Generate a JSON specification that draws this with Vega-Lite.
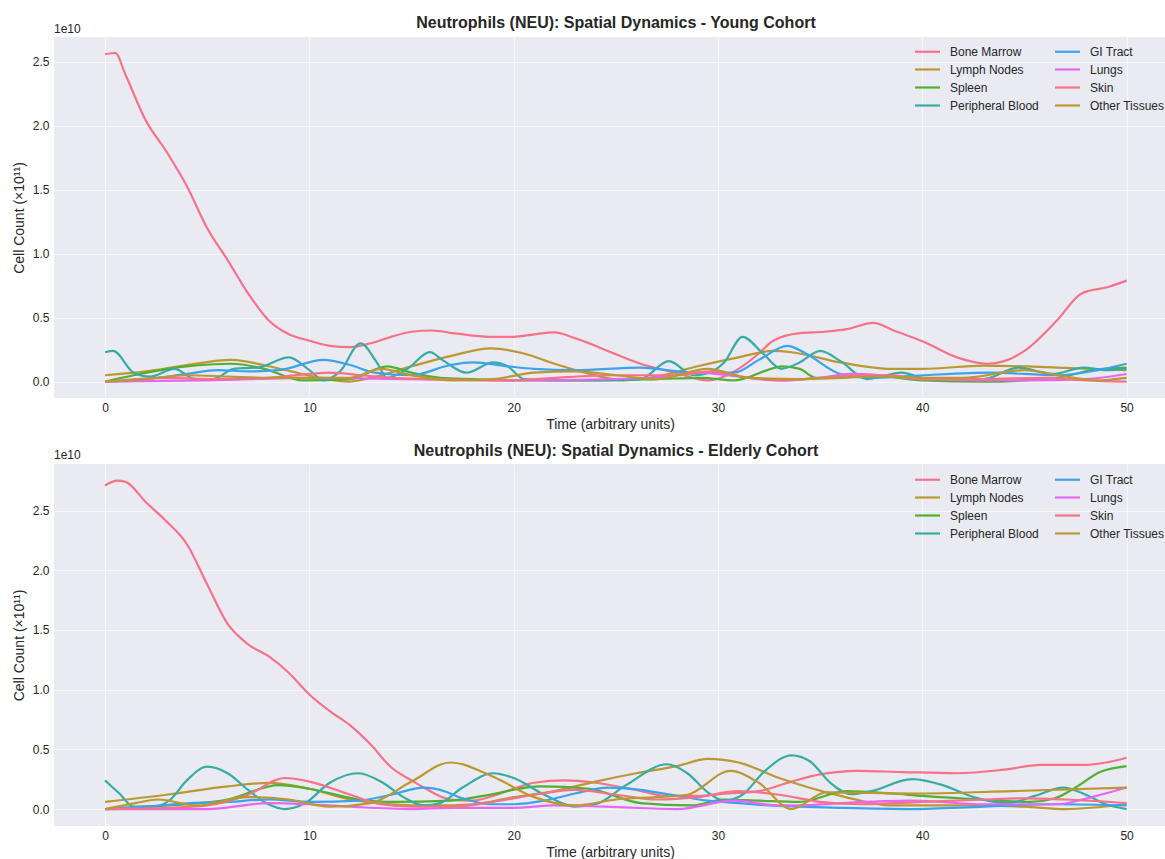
{
  "$schema": "https://vega.github.io/schema/vega-lite/v6.json",
  "padding": {"left": 12, "top": 15, "right": 0, "bottom": 0},
  "config": {
    "font": "Liberation Sans",
    "background": "white",
    "view": {"fill": "#eaeaf2", "stroke": null},
    "axis": {
      "domain": false, "ticks": false, "grid": true, "gridColor": "#ffffff", "gridWidth": 0.8, "gridOpacity": 0.8,
      "labelFontSize": 12, "labelColor": "#262626", "titleFontSize": 14,
      "titleFontWeight": "normal", "titleColor": "#262626"
    },
    "axisX": {"labelPadding": 4, "titlePadding": 4},
    "axisY": {"labelPadding": 5, "titlePadding": 6},
    "title": {"fontSize": 16, "fontWeight": "bold", "color": "#262626"},
    "legend": {
      "orient": "none", "columns": 2, "title": null, "symbolType": "M-2,0H2",
      "symbolSize": 156, "symbolStrokeWidth": 2.2, "labelFontSize": 12, "labelColor": "#262626",
      "labelOffset": 15, "columnPadding": 11, "rowPadding": 4, "padding": 0
    },
    "line": {"strokeWidth": 2.2, "interpolate": "monotone"}
  },
  "datasets": {
    "young": [
      {"t":0,"tissue":"Bone Marrow","n":2.56},{"t":0.5,"tissue":"Bone Marrow","n":2.57},{"t":1,"tissue":"Bone Marrow","n":2.40},{"t":2,"tissue":"Bone Marrow","n":2.04},{"t":3,"tissue":"Bone Marrow","n":1.80},{"t":4,"tissue":"Bone Marrow","n":1.53},{"t":5,"tissue":"Bone Marrow","n":1.20},{"t":6,"tissue":"Bone Marrow","n":0.95},{"t":7,"tissue":"Bone Marrow","n":0.69},{"t":8,"tissue":"Bone Marrow","n":0.48},{"t":9,"tissue":"Bone Marrow","n":0.37},{"t":10,"tissue":"Bone Marrow","n":0.32},{"t":11,"tissue":"Bone Marrow","n":0.28},{"t":12,"tissue":"Bone Marrow","n":0.27},{"t":13,"tissue":"Bone Marrow","n":0.30},{"t":14,"tissue":"Bone Marrow","n":0.35},{"t":15,"tissue":"Bone Marrow","n":0.39},{"t":16,"tissue":"Bone Marrow","n":0.40},{"t":17,"tissue":"Bone Marrow","n":0.38},{"t":18,"tissue":"Bone Marrow","n":0.36},{"t":19,"tissue":"Bone Marrow","n":0.35},{"t":20,"tissue":"Bone Marrow","n":0.35},{"t":21,"tissue":"Bone Marrow","n":0.37},{"t":22,"tissue":"Bone Marrow","n":0.385},{"t":23,"tissue":"Bone Marrow","n":0.34},{"t":24,"tissue":"Bone Marrow","n":0.28},{"t":24.6,"tissue":"Bone Marrow","n":0.24},{"t":26.2,"tissue":"Bone Marrow","n":0.14},{"t":27.9,"tissue":"Bone Marrow","n":0.07},{"t":29.5,"tissue":"Bone Marrow","n":0.01},{"t":30.3,"tissue":"Bone Marrow","n":0.04},{"t":31.1,"tissue":"Bone Marrow","n":0.11},{"t":32,"tissue":"Bone Marrow","n":0.22},{"t":32.7,"tissue":"Bone Marrow","n":0.32},{"t":34,"tissue":"Bone Marrow","n":0.38},{"t":35.2,"tissue":"Bone Marrow","n":0.39},{"t":36.3,"tissue":"Bone Marrow","n":0.41},{"t":37.6,"tissue":"Bone Marrow","n":0.46},{"t":38.6,"tissue":"Bone Marrow","n":0.40},{"t":40.1,"tissue":"Bone Marrow","n":0.31},{"t":41.7,"tissue":"Bone Marrow","n":0.19},{"t":43.2,"tissue":"Bone Marrow","n":0.14},{"t":44,"tissue":"Bone Marrow","n":0.16},{"t":45,"tissue":"Bone Marrow","n":0.24},{"t":46.6,"tissue":"Bone Marrow","n":0.48},{"t":47.8,"tissue":"Bone Marrow","n":0.69},{"t":49.1,"tissue":"Bone Marrow","n":0.74},{"t":50,"tissue":"Bone Marrow","n":0.79},

      {"t":0,"tissue":"Lymph Nodes","n":0.05},{"t":2,"tissue":"Lymph Nodes","n":0.08},{"t":4,"tissue":"Lymph Nodes","n":0.13},{"t":6.2,"tissue":"Lymph Nodes","n":0.17},{"t":8,"tissue":"Lymph Nodes","n":0.12},{"t":9.1,"tissue":"Lymph Nodes","n":0.08},{"t":10.5,"tissue":"Lymph Nodes","n":0.03},{"t":11.9,"tissue":"Lymph Nodes","n":0.0},{"t":13,"tissue":"Lymph Nodes","n":0.03},{"t":15,"tissue":"Lymph Nodes","n":0.12},{"t":16.9,"tissue":"Lymph Nodes","n":0.20},{"t":18.9,"tissue":"Lymph Nodes","n":0.26},{"t":20.5,"tissue":"Lymph Nodes","n":0.22},{"t":22,"tissue":"Lymph Nodes","n":0.14},{"t":23.5,"tissue":"Lymph Nodes","n":0.07},{"t":25.4,"tissue":"Lymph Nodes","n":0.01},{"t":27,"tissue":"Lymph Nodes","n":0.04},{"t":29,"tissue":"Lymph Nodes","n":0.12},{"t":31,"tissue":"Lymph Nodes","n":0.19},{"t":32.7,"tissue":"Lymph Nodes","n":0.24},{"t":33.6,"tissue":"Lymph Nodes","n":0.23},{"t":36,"tissue":"Lymph Nodes","n":0.15},{"t":38.5,"tissue":"Lymph Nodes","n":0.10},{"t":40,"tissue":"Lymph Nodes","n":0.10},{"t":43,"tissue":"Lymph Nodes","n":0.125},{"t":46.6,"tissue":"Lymph Nodes","n":0.11},{"t":50,"tissue":"Lymph Nodes","n":0.09},

      {"t":0,"tissue":"Spleen","n":0.0},{"t":1.4,"tissue":"Spleen","n":0.05},{"t":4,"tissue":"Spleen","n":0.12},{"t":6.2,"tissue":"Spleen","n":0.14},{"t":7.8,"tissue":"Spleen","n":0.10},{"t":9.7,"tissue":"Spleen","n":0.01},{"t":12,"tissue":"Spleen","n":0.02},{"t":13.8,"tissue":"Spleen","n":0.12},{"t":15,"tissue":"Spleen","n":0.07},{"t":16.4,"tissue":"Spleen","n":0.03},{"t":18,"tissue":"Spleen","n":0.02},{"t":20,"tissue":"Spleen","n":0.01},{"t":24,"tissue":"Spleen","n":0.01},{"t":27,"tissue":"Spleen","n":0.02},{"t":29.2,"tissue":"Spleen","n":0.03},{"t":30.8,"tissue":"Spleen","n":0.01},{"t":33.2,"tissue":"Spleen","n":0.12},{"t":34,"tissue":"Spleen","n":0.10},{"t":34.8,"tissue":"Spleen","n":0.03},{"t":36,"tissue":"Spleen","n":0.03},{"t":37.5,"tissue":"Spleen","n":0.05},{"t":40,"tissue":"Spleen","n":0.01},{"t":43,"tissue":"Spleen","n":0.0},{"t":46.6,"tissue":"Spleen","n":0.03},{"t":48.3,"tissue":"Spleen","n":0.09},{"t":50,"tissue":"Spleen","n":0.11},

      {"t":0,"tissue":"Peripheral Blood","n":0.23},{"t":0.4,"tissue":"Peripheral Blood","n":0.24},{"t":1.4,"tissue":"Peripheral Blood","n":0.07},{"t":2.2,"tissue":"Peripheral Blood","n":0.04},{"t":3.4,"tissue":"Peripheral Blood","n":0.10},{"t":4.4,"tissue":"Peripheral Blood","n":0.02},{"t":5.3,"tissue":"Peripheral Blood","n":0.02},{"t":6.3,"tissue":"Peripheral Blood","n":0.10},{"t":7.5,"tissue":"Peripheral Blood","n":0.11},{"t":9,"tissue":"Peripheral Blood","n":0.19},{"t":10,"tissue":"Peripheral Blood","n":0.09},{"t":10.7,"tissue":"Peripheral Blood","n":0.01},{"t":11.5,"tissue":"Peripheral Blood","n":0.08},{"t":12.5,"tissue":"Peripheral Blood","n":0.30},{"t":13.3,"tissue":"Peripheral Blood","n":0.15},{"t":13.8,"tissue":"Peripheral Blood","n":0.03},{"t":14.8,"tissue":"Peripheral Blood","n":0.10},{"t":15.9,"tissue":"Peripheral Blood","n":0.23},{"t":16.5,"tissue":"Peripheral Blood","n":0.17},{"t":17.7,"tissue":"Peripheral Blood","n":0.07},{"t":19,"tissue":"Peripheral Blood","n":0.15},{"t":19.7,"tissue":"Peripheral Blood","n":0.12},{"t":20.5,"tissue":"Peripheral Blood","n":0.02},{"t":22,"tissue":"Peripheral Blood","n":0.01},{"t":24,"tissue":"Peripheral Blood","n":0.01},{"t":26.2,"tissue":"Peripheral Blood","n":0.02},{"t":27.6,"tissue":"Peripheral Blood","n":0.16},{"t":28.8,"tissue":"Peripheral Blood","n":0.05},{"t":29.7,"tissue":"Peripheral Blood","n":0.08},{"t":30.3,"tissue":"Peripheral Blood","n":0.15},{"t":31.2,"tissue":"Peripheral Blood","n":0.35},{"t":32.2,"tissue":"Peripheral Blood","n":0.22},{"t":33.1,"tissue":"Peripheral Blood","n":0.10},{"t":34,"tissue":"Peripheral Blood","n":0.15},{"t":35,"tissue":"Peripheral Blood","n":0.24},{"t":36,"tissue":"Peripheral Blood","n":0.16},{"t":37.3,"tissue":"Peripheral Blood","n":0.02},{"t":38,"tissue":"Peripheral Blood","n":0.04},{"t":39,"tissue":"Peripheral Blood","n":0.07},{"t":40,"tissue":"Peripheral Blood","n":0.03},{"t":41,"tissue":"Peripheral Blood","n":0.02},{"t":43,"tissue":"Peripheral Blood","n":0.02},{"t":44.7,"tissue":"Peripheral Blood","n":0.11},{"t":46.4,"tissue":"Peripheral Blood","n":0.06},{"t":47.9,"tissue":"Peripheral Blood","n":0.11},{"t":49,"tissue":"Peripheral Blood","n":0.09},{"t":50,"tissue":"Peripheral Blood","n":0.10},

      {"t":0,"tissue":"GI Tract","n":0.0},{"t":2,"tissue":"GI Tract","n":0.02},{"t":4,"tissue":"GI Tract","n":0.06},{"t":5.5,"tissue":"GI Tract","n":0.09},{"t":7,"tissue":"GI Tract","n":0.08},{"t":8.5,"tissue":"GI Tract","n":0.09},{"t":10.7,"tissue":"GI Tract","n":0.17},{"t":12,"tissue":"GI Tract","n":0.13},{"t":13.2,"tissue":"GI Tract","n":0.07},{"t":15,"tissue":"GI Tract","n":0.05},{"t":16.9,"tissue":"GI Tract","n":0.13},{"t":18,"tissue":"GI Tract","n":0.15},{"t":19.7,"tissue":"GI Tract","n":0.12},{"t":21,"tissue":"GI Tract","n":0.10},{"t":23,"tissue":"GI Tract","n":0.09},{"t":26.2,"tissue":"GI Tract","n":0.11},{"t":28.8,"tissue":"GI Tract","n":0.07},{"t":30.8,"tissue":"GI Tract","n":0.07},{"t":32,"tissue":"GI Tract","n":0.17},{"t":33.4,"tissue":"GI Tract","n":0.28},{"t":34.3,"tissue":"GI Tract","n":0.22},{"t":36,"tissue":"GI Tract","n":0.06},{"t":37.6,"tissue":"GI Tract","n":0.03},{"t":40,"tissue":"GI Tract","n":0.05},{"t":43.4,"tissue":"GI Tract","n":0.07},{"t":46.6,"tissue":"GI Tract","n":0.05},{"t":48.6,"tissue":"GI Tract","n":0.09},{"t":50,"tissue":"GI Tract","n":0.14},

      {"t":0,"tissue":"Lungs","n":0.0},{"t":5,"tissue":"Lungs","n":0.01},{"t":10,"tissue":"Lungs","n":0.03},{"t":15,"tissue":"Lungs","n":0.02},{"t":20,"tissue":"Lungs","n":0.01},{"t":25,"tissue":"Lungs","n":0.02},{"t":27.5,"tissue":"Lungs","n":0.04},{"t":29,"tissue":"Lungs","n":0.07},{"t":31,"tissue":"Lungs","n":0.04},{"t":33,"tissue":"Lungs","n":0.01},{"t":35,"tissue":"Lungs","n":0.03},{"t":36.5,"tissue":"Lungs","n":0.06},{"t":38,"tissue":"Lungs","n":0.05},{"t":40,"tissue":"Lungs","n":0.02},{"t":45,"tissue":"Lungs","n":0.01},{"t":48,"tissue":"Lungs","n":0.02},{"t":50,"tissue":"Lungs","n":0.06},

      {"t":0,"tissue":"Skin","n":0.0},{"t":3,"tissue":"Skin","n":0.03},{"t":5,"tissue":"Skin","n":0.02},{"t":8,"tissue":"Skin","n":0.03},{"t":10,"tissue":"Skin","n":0.06},{"t":11,"tissue":"Skin","n":0.07},{"t":12.5,"tissue":"Skin","n":0.05},{"t":14,"tissue":"Skin","n":0.03},{"t":16,"tissue":"Skin","n":0.02},{"t":20,"tissue":"Skin","n":0.01},{"t":22,"tissue":"Skin","n":0.03},{"t":25,"tissue":"Skin","n":0.05},{"t":28,"tissue":"Skin","n":0.05},{"t":29.7,"tissue":"Skin","n":0.08},{"t":31.5,"tissue":"Skin","n":0.03},{"t":33,"tissue":"Skin","n":0.01},{"t":35,"tissue":"Skin","n":0.03},{"t":37,"tissue":"Skin","n":0.05},{"t":38.5,"tissue":"Skin","n":0.05},{"t":40,"tissue":"Skin","n":0.02},{"t":43,"tissue":"Skin","n":0.02},{"t":46,"tissue":"Skin","n":0.03},{"t":48,"tissue":"Skin","n":0.01},{"t":50,"tissue":"Skin","n":0.0},

      {"t":0,"tissue":"Other Tissues","n":0.0},{"t":2,"tissue":"Other Tissues","n":0.02},{"t":4,"tissue":"Other Tissues","n":0.05},{"t":6,"tissue":"Other Tissues","n":0.04},{"t":8,"tissue":"Other Tissues","n":0.03},{"t":10,"tissue":"Other Tissues","n":0.03},{"t":12,"tissue":"Other Tissues","n":0.03},{"t":13.5,"tissue":"Other Tissues","n":0.10},{"t":15,"tissue":"Other Tissues","n":0.05},{"t":17,"tissue":"Other Tissues","n":0.01},{"t":19,"tissue":"Other Tissues","n":0.02},{"t":21,"tissue":"Other Tissues","n":0.07},{"t":23,"tissue":"Other Tissues","n":0.08},{"t":25,"tissue":"Other Tissues","n":0.05},{"t":27,"tissue":"Other Tissues","n":0.02},{"t":29.5,"tissue":"Other Tissues","n":0.10},{"t":31.5,"tissue":"Other Tissues","n":0.03},{"t":34,"tissue":"Other Tissues","n":0.02},{"t":36,"tissue":"Other Tissues","n":0.03},{"t":38,"tissue":"Other Tissues","n":0.04},{"t":40,"tissue":"Other Tissues","n":0.03},{"t":42,"tissue":"Other Tissues","n":0.03},{"t":45,"tissue":"Other Tissues","n":0.09},{"t":47,"tissue":"Other Tissues","n":0.04},{"t":48.5,"tissue":"Other Tissues","n":0.01},{"t":50,"tissue":"Other Tissues","n":0.03}
    ],
    "elderly": [
      {"t":0,"tissue":"Bone Marrow","n":2.71},{"t":0.6,"tissue":"Bone Marrow","n":2.75},{"t":1,"tissue":"Bone Marrow","n":2.74},{"t":2,"tissue":"Bone Marrow","n":2.57},{"t":3,"tissue":"Bone Marrow","n":2.41},{"t":4,"tissue":"Bone Marrow","n":2.22},{"t":5,"tissue":"Bone Marrow","n":1.88},{"t":6,"tissue":"Bone Marrow","n":1.55},{"t":7,"tissue":"Bone Marrow","n":1.38},{"t":8,"tissue":"Bone Marrow","n":1.28},{"t":9,"tissue":"Bone Marrow","n":1.14},{"t":10,"tissue":"Bone Marrow","n":0.96},{"t":11,"tissue":"Bone Marrow","n":0.82},{"t":12,"tissue":"Bone Marrow","n":0.70},{"t":13,"tissue":"Bone Marrow","n":0.54},{"t":14,"tissue":"Bone Marrow","n":0.35},{"t":15,"tissue":"Bone Marrow","n":0.24},{"t":15.6,"tissue":"Bone Marrow","n":0.18},{"t":16.9,"tissue":"Bone Marrow","n":0.08},{"t":18,"tissue":"Bone Marrow","n":0.07},{"t":19,"tissue":"Bone Marrow","n":0.11},{"t":20,"tissue":"Bone Marrow","n":0.17},{"t":21,"tissue":"Bone Marrow","n":0.22},{"t":22.5,"tissue":"Bone Marrow","n":0.24},{"t":24,"tissue":"Bone Marrow","n":0.22},{"t":26,"tissue":"Bone Marrow","n":0.16},{"t":27.5,"tissue":"Bone Marrow","n":0.11},{"t":29,"tissue":"Bone Marrow","n":0.11},{"t":30.5,"tissue":"Bone Marrow","n":0.13},{"t":32,"tissue":"Bone Marrow","n":0.15},{"t":33.6,"tissue":"Bone Marrow","n":0.23},{"t":35,"tissue":"Bone Marrow","n":0.29},{"t":36.8,"tissue":"Bone Marrow","n":0.32},{"t":39,"tissue":"Bone Marrow","n":0.31},{"t":41.7,"tissue":"Bone Marrow","n":0.30},{"t":44,"tissue":"Bone Marrow","n":0.33},{"t":45.8,"tissue":"Bone Marrow","n":0.37},{"t":48,"tissue":"Bone Marrow","n":0.37},{"t":49,"tissue":"Bone Marrow","n":0.39},{"t":50,"tissue":"Bone Marrow","n":0.43},

      {"t":0,"tissue":"Lymph Nodes","n":0.06},{"t":3,"tissue":"Lymph Nodes","n":0.12},{"t":6,"tissue":"Lymph Nodes","n":0.19},{"t":8,"tissue":"Lymph Nodes","n":0.22},{"t":10,"tissue":"Lymph Nodes","n":0.17},{"t":12,"tissue":"Lymph Nodes","n":0.08},{"t":14,"tissue":"Lymph Nodes","n":0.04},{"t":16,"tissue":"Lymph Nodes","n":0.03},{"t":18,"tissue":"Lymph Nodes","n":0.04},{"t":20,"tissue":"Lymph Nodes","n":0.10},{"t":22,"tissue":"Lymph Nodes","n":0.15},{"t":24,"tissue":"Lymph Nodes","n":0.23},{"t":26,"tissue":"Lymph Nodes","n":0.30},{"t":28,"tissue":"Lymph Nodes","n":0.36},{"t":29.5,"tissue":"Lymph Nodes","n":0.42},{"t":31,"tissue":"Lymph Nodes","n":0.39},{"t":33,"tissue":"Lymph Nodes","n":0.26},{"t":36,"tissue":"Lymph Nodes","n":0.11},{"t":38.5,"tissue":"Lymph Nodes","n":0.03},{"t":42,"tissue":"Lymph Nodes","n":0.03},{"t":45,"tissue":"Lymph Nodes","n":0.02},{"t":47,"tissue":"Lymph Nodes","n":0.0},{"t":50,"tissue":"Lymph Nodes","n":0.04},

      {"t":0,"tissue":"Spleen","n":0.0},{"t":2,"tissue":"Spleen","n":0.02},{"t":4,"tissue":"Spleen","n":0.04},{"t":6,"tissue":"Spleen","n":0.08},{"t":8.5,"tissue":"Spleen","n":0.20},{"t":10,"tissue":"Spleen","n":0.17},{"t":12.4,"tissue":"Spleen","n":0.08},{"t":14,"tissue":"Spleen","n":0.06},{"t":16.9,"tissue":"Spleen","n":0.07},{"t":18.5,"tissue":"Spleen","n":0.11},{"t":21.3,"tissue":"Spleen","n":0.19},{"t":23.7,"tissue":"Spleen","n":0.17},{"t":26.2,"tissue":"Spleen","n":0.05},{"t":28.7,"tissue":"Spleen","n":0.03},{"t":30.3,"tissue":"Spleen","n":0.08},{"t":32,"tissue":"Spleen","n":0.07},{"t":34,"tissue":"Spleen","n":0.06},{"t":36.3,"tissue":"Spleen","n":0.15},{"t":38.5,"tissue":"Spleen","n":0.13},{"t":40,"tissue":"Spleen","n":0.11},{"t":42.8,"tissue":"Spleen","n":0.08},{"t":45.3,"tissue":"Spleen","n":0.06},{"t":46.5,"tissue":"Spleen","n":0.09},{"t":47.5,"tissue":"Spleen","n":0.18},{"t":48.7,"tissue":"Spleen","n":0.31},{"t":50,"tissue":"Spleen","n":0.36},

      {"t":0,"tissue":"Peripheral Blood","n":0.24},{"t":0.7,"tissue":"Peripheral Blood","n":0.13},{"t":1.4,"tissue":"Peripheral Blood","n":0.02},{"t":2.4,"tissue":"Peripheral Blood","n":0.02},{"t":3.2,"tissue":"Peripheral Blood","n":0.08},{"t":4,"tissue":"Peripheral Blood","n":0.24},{"t":5,"tissue":"Peripheral Blood","n":0.355},{"t":6,"tissue":"Peripheral Blood","n":0.30},{"t":7,"tissue":"Peripheral Blood","n":0.16},{"t":8,"tissue":"Peripheral Blood","n":0.04},{"t":8.8,"tissue":"Peripheral Blood","n":0.0},{"t":9.8,"tissue":"Peripheral Blood","n":0.05},{"t":11,"tissue":"Peripheral Blood","n":0.22},{"t":12.4,"tissue":"Peripheral Blood","n":0.30},{"t":13.6,"tissue":"Peripheral Blood","n":0.22},{"t":14.6,"tissue":"Peripheral Blood","n":0.10},{"t":15.6,"tissue":"Peripheral Blood","n":0.03},{"t":16.4,"tissue":"Peripheral Blood","n":0.05},{"t":17.5,"tissue":"Peripheral Blood","n":0.18},{"t":19,"tissue":"Peripheral Blood","n":0.30},{"t":20,"tissue":"Peripheral Blood","n":0.26},{"t":21.5,"tissue":"Peripheral Blood","n":0.12},{"t":23,"tissue":"Peripheral Blood","n":0.02},{"t":24,"tissue":"Peripheral Blood","n":0.04},{"t":25.5,"tissue":"Peripheral Blood","n":0.20},{"t":27.5,"tissue":"Peripheral Blood","n":0.375},{"t":28.5,"tissue":"Peripheral Blood","n":0.30},{"t":29.5,"tissue":"Peripheral Blood","n":0.14},{"t":30.3,"tissue":"Peripheral Blood","n":0.07},{"t":31.2,"tissue":"Peripheral Blood","n":0.12},{"t":32.3,"tissue":"Peripheral Blood","n":0.32},{"t":33.6,"tissue":"Peripheral Blood","n":0.45},{"t":34.5,"tissue":"Peripheral Blood","n":0.40},{"t":35.5,"tissue":"Peripheral Blood","n":0.22},{"t":36.5,"tissue":"Peripheral Blood","n":0.125},{"t":37.5,"tissue":"Peripheral Blood","n":0.15},{"t":39.5,"tissue":"Peripheral Blood","n":0.25},{"t":41,"tissue":"Peripheral Blood","n":0.20},{"t":42.5,"tissue":"Peripheral Blood","n":0.10},{"t":44.2,"tissue":"Peripheral Blood","n":0.05},{"t":45.5,"tissue":"Peripheral Blood","n":0.11},{"t":46.9,"tissue":"Peripheral Blood","n":0.18},{"t":48,"tissue":"Peripheral Blood","n":0.12},{"t":49,"tissue":"Peripheral Blood","n":0.04},{"t":50,"tissue":"Peripheral Blood","n":0.0},

      {"t":0,"tissue":"GI Tract","n":0.0},{"t":2,"tissue":"GI Tract","n":0.02},{"t":4.2,"tissue":"GI Tract","n":0.05},{"t":6,"tissue":"GI Tract","n":0.06},{"t":8,"tissue":"GI Tract","n":0.08},{"t":10,"tissue":"GI Tract","n":0.06},{"t":12.4,"tissue":"GI Tract","n":0.07},{"t":14,"tissue":"GI Tract","n":0.12},{"t":15.6,"tissue":"GI Tract","n":0.18},{"t":16.4,"tissue":"GI Tract","n":0.16},{"t":17.5,"tissue":"GI Tract","n":0.09},{"t":18.9,"tissue":"GI Tract","n":0.04},{"t":20,"tissue":"GI Tract","n":0.04},{"t":21.5,"tissue":"GI Tract","n":0.07},{"t":23,"tissue":"GI Tract","n":0.13},{"t":24.6,"tissue":"GI Tract","n":0.18},{"t":26.2,"tissue":"GI Tract","n":0.16},{"t":28,"tissue":"GI Tract","n":0.11},{"t":29.5,"tissue":"GI Tract","n":0.07},{"t":31,"tissue":"GI Tract","n":0.05},{"t":32.5,"tissue":"GI Tract","n":0.03},{"t":34,"tissue":"GI Tract","n":0.02},{"t":36,"tissue":"GI Tract","n":0.01},{"t":39.5,"tissue":"GI Tract","n":0.0},{"t":43,"tissue":"GI Tract","n":0.02},{"t":46.6,"tissue":"GI Tract","n":0.04},{"t":50,"tissue":"GI Tract","n":0.03},

      {"t":0,"tissue":"Lungs","n":0.0},{"t":5,"tissue":"Lungs","n":0.0},{"t":8,"tissue":"Lungs","n":0.05},{"t":10,"tissue":"Lungs","n":0.04},{"t":12,"tissue":"Lungs","n":0.02},{"t":15,"tissue":"Lungs","n":0.0},{"t":17,"tissue":"Lungs","n":0.01},{"t":20,"tissue":"Lungs","n":0.01},{"t":22,"tissue":"Lungs","n":0.03},{"t":24.5,"tissue":"Lungs","n":0.02},{"t":28,"tissue":"Lungs","n":0.0},{"t":30.8,"tissue":"Lungs","n":0.07},{"t":33,"tissue":"Lungs","n":0.03},{"t":34,"tissue":"Lungs","n":0.03},{"t":36,"tissue":"Lungs","n":0.05},{"t":39.5,"tissue":"Lungs","n":0.07},{"t":43,"tissue":"Lungs","n":0.04},{"t":46.6,"tissue":"Lungs","n":0.04},{"t":48.3,"tissue":"Lungs","n":0.10},{"t":50,"tissue":"Lungs","n":0.18},

      {"t":0,"tissue":"Skin","n":0.0},{"t":3,"tissue":"Skin","n":0.01},{"t":5,"tissue":"Skin","n":0.03},{"t":7,"tissue":"Skin","n":0.12},{"t":8.8,"tissue":"Skin","n":0.26},{"t":10,"tissue":"Skin","n":0.23},{"t":12,"tissue":"Skin","n":0.12},{"t":13.5,"tissue":"Skin","n":0.04},{"t":15,"tissue":"Skin","n":0.02},{"t":17,"tissue":"Skin","n":0.02},{"t":19,"tissue":"Skin","n":0.06},{"t":21,"tissue":"Skin","n":0.12},{"t":23,"tissue":"Skin","n":0.16},{"t":25,"tissue":"Skin","n":0.12},{"t":27,"tissue":"Skin","n":0.08},{"t":29,"tissue":"Skin","n":0.10},{"t":31,"tissue":"Skin","n":0.15},{"t":33,"tissue":"Skin","n":0.12},{"t":35,"tissue":"Skin","n":0.06},{"t":37,"tissue":"Skin","n":0.04},{"t":40,"tissue":"Skin","n":0.06},{"t":43,"tissue":"Skin","n":0.08},{"t":45,"tissue":"Skin","n":0.09},{"t":47,"tissue":"Skin","n":0.08},{"t":50,"tissue":"Skin","n":0.05},

      {"t":0,"tissue":"Other Tissues","n":0.0},{"t":1.5,"tissue":"Other Tissues","n":0.05},{"t":2.6,"tissue":"Other Tissues","n":0.08},{"t":4.5,"tissue":"Other Tissues","n":0.03},{"t":7,"tissue":"Other Tissues","n":0.10},{"t":9,"tissue":"Other Tissues","n":0.08},{"t":11,"tissue":"Other Tissues","n":0.02},{"t":13,"tissue":"Other Tissues","n":0.05},{"t":15,"tissue":"Other Tissues","n":0.23},{"t":16.9,"tissue":"Other Tissues","n":0.39},{"t":19,"tissue":"Other Tissues","n":0.27},{"t":21,"tissue":"Other Tissues","n":0.10},{"t":23,"tissue":"Other Tissues","n":0.03},{"t":25,"tissue":"Other Tissues","n":0.08},{"t":27,"tissue":"Other Tissues","n":0.10},{"t":28.5,"tissue":"Other Tissues","n":0.12},{"t":30.6,"tissue":"Other Tissues","n":0.32},{"t":32,"tissue":"Other Tissues","n":0.22},{"t":33.6,"tissue":"Other Tissues","n":0.0},{"t":35.3,"tissue":"Other Tissues","n":0.14},{"t":39.5,"tissue":"Other Tissues","n":0.13},{"t":44.4,"tissue":"Other Tissues","n":0.15},{"t":50,"tissue":"Other Tissues","n":0.18}
    ]
  },
  "vconcat": [
    {
      "title": {"text": "Neutrophils (NEU): Spatial Dynamics - Young Cohort", "dx": 6, "offset": -8},
      "width": 1112,
      "height": 361,
      "layer": [
        {
          "data": {"name": "young"},
          "mark": {"type": "line"},
          "encoding": {
            "x": {"field": "t", "type": "quantitative", "title": "Time (arbitrary units)",
                  "scale": {"domain": [-2.5, 51.93], "nice": false, "zero": false},
                  "axis": {"values": [0, 10, 20, 30, 40, 50], "format": "d"}},
            "y": {"field": "n", "type": "quantitative", "title": "Cell Count (×10¹¹)",
                  "scale": {"domain": [-0.128, 2.695], "nice": false, "zero": false},
                  "axis": {"values": [0, 0.5, 1, 1.5, 2, 2.5], "format": ".1f"}},
            "color": {"field": "tissue", "type": "nominal",
                      "scale": {"domain": ["Bone Marrow", "Lymph Nodes", "Spleen", "Peripheral Blood", "GI Tract", "Lungs", "Skin", "Other Tissues"],
                                "range": ["#f77189", "#bb9832", "#50b131", "#36ada4", "#3ba3ec", "#e866f4", "#f77189", "#bb9832"]},
                      "legend": {"legendX": 866, "legendY": 7}}
          }
        },
        {
          "data": {"values": [{}]},
          "mark": {"type": "text", "text": "1e10", "align": "left", "baseline": "bottom", "dy": -1, "fontSize": 12, "color": "#262626"},
          "encoding": {"x": {"datum": -2.5}, "y": {"datum": 2.695}}
        }
      ]
    },
    {
      "title": {"text": "Neutrophils (NEU): Spatial Dynamics - Elderly Cohort", "dx": 6, "offset": -10},
      "width": 1112,
      "height": 362,
      "layer": [
        {
          "data": {"name": "elderly"},
          "mark": {"type": "line"},
          "encoding": {
            "x": {"field": "t", "type": "quantitative", "title": "Time (arbitrary units)",
                  "scale": {"domain": [-2.5, 51.93], "nice": false, "zero": false},
                  "axis": {"values": [0, 10, 20, 30, 40, 50], "format": "d"}},
            "y": {"field": "n", "type": "quantitative", "title": "Cell Count (×10¹¹)",
                  "scale": {"domain": [-0.142, 2.89], "nice": false, "zero": false},
                  "axis": {"values": [0, 0.5, 1, 1.5, 2, 2.5], "format": ".1f"}},
            "color": {"field": "tissue", "type": "nominal",
                      "scale": {"domain": ["Bone Marrow", "Lymph Nodes", "Spleen", "Peripheral Blood", "GI Tract", "Lungs", "Skin", "Other Tissues"],
                                "range": ["#f77189", "#bb9832", "#50b131", "#36ada4", "#3ba3ec", "#e866f4", "#f77189", "#bb9832"]},
                      "legend": {"legendX": 866, "legendY": 8}}
          }
        },
        {
          "data": {"values": [{}]},
          "mark": {"type": "text", "text": "1e10", "align": "left", "baseline": "bottom", "dy": -2, "fontSize": 12, "color": "#262626"},
          "encoding": {"x": {"datum": -2.5}, "y": {"datum": 2.89}}
        }
      ]
    }
  ],
  "spacing": 12,
  "resolve": {
    "scale": {"x": "independent", "y": "independent"},
    "legend": {"color": "independent"}
  }
}
